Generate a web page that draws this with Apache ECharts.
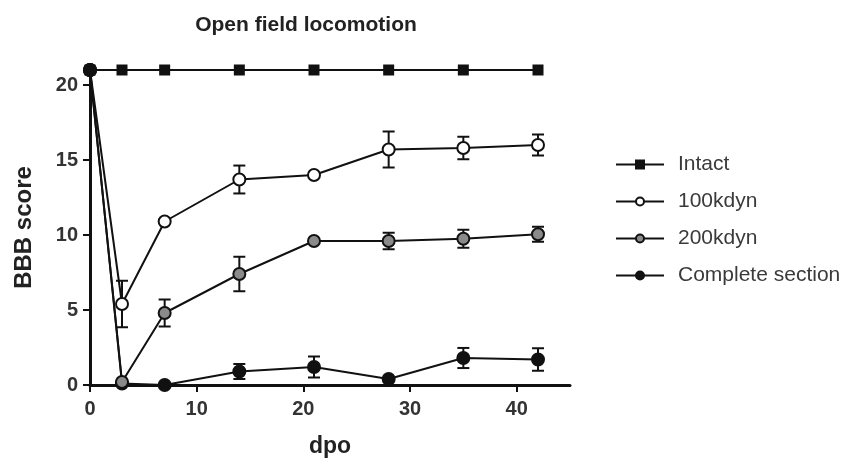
<!DOCTYPE html>
<html lang="en">
<head>
  <meta charset="UTF-8">
  <title>Open field locomotion</title>
  <script src="https://cdn.jsdelivr.net/npm/echarts@6/dist/echarts.min.js"></script>
  <style>
    html, body {
      margin: 0;
      padding: 0;
      background: #fff;
    }

    #chart-main {
      width: 843px;
      height: 463px;
    }
  </style>
</head>
<body>
<div id="chart-main"></div>

<script type="text/javascript">
  // days post operation
  const dpo = [0, 3, 7, 14, 21, 28, 35, 42]

  const intactMean = [21, 21, 21, 21, 21, 21, 21, 21]
  const intactErr = [0, 0, 0, 0, 0, 0, 0, 0]

  const kdyn100Mean = [21, 5.4, 10.9, 13.7, 14.0, 15.7, 15.8, 16.0]
  const kdyn100Err = [0, 1.55, 0, 0.93, 0, 1.2, 0.75, 0.7]

  const kdyn200Mean = [21, 0.2, 4.8, 7.4, 9.6, 9.6, 9.75, 10.05]
  const kdyn200Err = [0, 0, 0.9, 1.15, 0, 0.55, 0.6, 0.5]

  const completeMean = [21, 0.1, 0.0, 0.9, 1.2, 0.4, 1.8, 1.7]
  const completeErr = [0, 0, 0, 0.5, 0.7, 0, 0.67, 0.75]

  const xTicks = [0, 10, 20, 30, 40]
  const yTicks = [0, 5, 10, 15, 20]

  const legendNames = ['Intact', '100kdyn', '200kdyn', 'Complete section']

  const font = '"Liberation Sans", Arial, sans-serif'

  let chart = echarts.init(document.getElementById('chart-main'))

  function points(means) {
    return dpo.map((d, i) => [d, means[i]])
  }

  function errRows(means, errs) {
    return dpo.map((d, i) => [d, means[i], errs[i]]).filter(r => r[2] > 0)
  }

  // vertical bar with caps, drawn in data space
  function renderErr(params, api) {
    const x = api.value(0)
    const y = api.value(1)
    const e = api.value(2)
    const hi = api.coord([x, y + e])
    const lo = api.coord([x, y - e])
    const w = 6
    const style = {stroke: '#111', lineWidth: 2}
    return {
      type: 'group',
      children: [
        {type: 'line', shape: {x1: hi[0], y1: hi[1], x2: lo[0], y2: lo[1]}, style: style},
        {type: 'line', shape: {x1: hi[0] - w, y1: hi[1], x2: hi[0] + w, y2: hi[1]}, style: style},
        {type: 'line', shape: {x1: lo[0] - w, y1: lo[1], x2: lo[0] + w, y2: lo[1]}, style: style}
      ]
    }
  }

  function lineSeries(name, means, symbol, size, fill) {
    return {
      name: name,
      type: 'line',
      data: points(means),
      symbol: symbol,
      symbolSize: size,
      showAllSymbol: true,
      z: 3,
      lineStyle: {color: '#111', width: 2},
      itemStyle: {color: fill, borderColor: '#111', borderWidth: 2, opacity: 1},
      emphasis: {disabled: true}
    }
  }

  function errSeries(name, means, errs) {
    return {
      name: name + ' SEM',
      type: 'custom',
      renderItem: renderErr,
      data: errRows(means, errs),
      encode: {x: 0, y: 1},
      z: 2,
      silent: true
    }
  }

  let option = {
    animation: false,
    backgroundColor: '#fff',
    title: {
      text: 'Open field locomotion',
      left: 301,
      top: 10,
      textAlign: 'center',
      textStyle: {fontFamily: font, fontSize: 21, fontWeight: 'bold', color: '#222'}
    },
    legend: {
      orient: 'vertical',
      left: 610,
      top: 149,
      itemGap: 16,
      itemWidth: 48,
      itemHeight: 10,
      data: legendNames,
      textStyle: {fontFamily: font, fontSize: 21, color: '#3a3a3a', padding: [0, 0, 0, 9]}
    },
    grid: {
      left: 90,
      right: 273,
      top: 70,
      bottom: 78
    },
    xAxis: {
      type: 'value',
      min: 0,
      max: 45,
      interval: 10,
      name: 'dpo',
      nameLocation: 'middle',
      nameGap: 50,
      nameTextStyle: {fontFamily: font, fontSize: 23, fontWeight: 'bold', color: '#222'},
      axisLine: {lineStyle: {color: '#111', width: 3}},
      axisTick: {length: 7, lineStyle: {color: '#111', width: 2}},
      axisLabel: {
        fontFamily: font, fontSize: 20, fontWeight: 'bold', color: '#333', margin: 14,
        showMaxLabel: false,
        formatter: v => (xTicks.indexOf(v) >= 0 ? String(v) : '')
      },
      splitLine: {show: false}
    },
    yAxis: {
      type: 'value',
      min: 0,
      max: 21,
      interval: 5,
      name: 'BBB score',
      nameLocation: 'middle',
      nameGap: 54,
      nameTextStyle: {fontFamily: font, fontSize: 24, fontWeight: 'bold', color: '#222'},
      axisLine: {lineStyle: {color: '#111', width: 3}},
      axisTick: {length: 7, lineStyle: {color: '#111', width: 2}},
      axisLabel: {
        fontFamily: font, fontSize: 20, fontWeight: 'bold', color: '#333', margin: 12,
        showMaxLabel: false,
        formatter: v => (yTicks.indexOf(v) >= 0 ? String(v) : '')
      },
      splitLine: {show: false}
    },
    series: [
      lineSeries('Complete section', completeMean, 'circle', 12, '#111'),
      lineSeries('200kdyn', kdyn200Mean, 'circle', 12, '#8a8a8a'),
      lineSeries('100kdyn', kdyn100Mean, 'circle', 12, '#fff'),
      lineSeries('Intact', intactMean, 'rect', 9, '#111'),
      errSeries('100kdyn', kdyn100Mean, kdyn100Err),
      errSeries('200kdyn', kdyn200Mean, kdyn200Err),
      errSeries('Complete section', completeMean, completeErr)
    ]
  }

  chart.setOption(option)
</script>
</body>
</html>
